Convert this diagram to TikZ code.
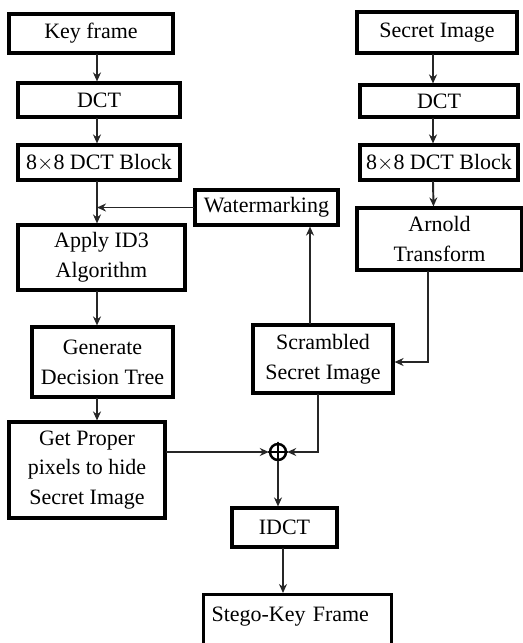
\documentclass[tikz,border=0pt]{standalone}
\usepackage{fontspec}
\setmainfont{Liberation Serif}
\usetikzlibrary{arrows.meta,positioning}

\begin{document}
\begin{tikzpicture}
        [x=0.02cm, y=-0.02cm, line cap=round,
        % Styles
        box/.style={draw, line width=1.8pt, align=center, inner sep=2pt,
                font=\fontsize{12.5}{17}\selectfont},
        flow/.style={line width=1.1pt, black!85, -{Stealth[length=1.8mm, width=1.6mm]}}]

        \useasboundingbox (0, 0) rectangle (523, 643);

        % Left column
        \node[box, minimum width=3.28cm, minimum height=0.78cm] (key frame) at (91, 33.5) {Key frame};
        \node[box, minimum width=3.24cm, minimum height=0.68cm] (dct left) at (99, 100) {DCT};
        \node[box, minimum width=3.24cm, minimum height=0.70cm] (block left) at (99, 162.5) {8$\times$8 DCT Block};
        \node[box, minimum width=3.34cm, minimum height=1.30cm] (id3) at (101.5, 257.5) {Apply ID3\\Algorithm};
        \node[box, minimum width=2.82cm, minimum height=1.40cm] (tree) at (102.5, 362) {Generate\\Decision Tree};
        \node[box, minimum width=3.12cm, minimum height=1.92cm] (pixels) at (87, 470) {Get Proper\\pixels to hide\\Secret Image};
        \coordinate (spine) at (97, 0);

        % Right column
        \node[box, minimum width=3.20cm, minimum height=0.82cm] (secret) at (437, 32.5) {Secret Image};
        \node[box, minimum width=3.16cm, minimum height=0.64cm] (dct right) at (439, 101) {DCT};
        \node[box, minimum width=3.16cm, minimum height=0.70cm] (block right) at (439, 162.5) {8$\times$8 DCT Block};
        \node[box, minimum width=3.30cm, minimum height=1.24cm] (arnold) at (439.5, 239) {Arnold\\Transform};

        % Middle
        \node[box, minimum width=2.86cm, minimum height=0.70cm] (watermark) at (266.5, 207.5) {Watermarking};
        \node[box, minimum width=2.80cm, minimum height=1.36cm] (scrambled) at (323, 359) {Scrambled\\Secret Image};
        \node[draw, circle, line width=1.4pt, minimum size=0.32cm, inner sep=0pt] (xor) at (278, 452) {};
        \draw[line width=1.4pt] (xor.north) -- (xor.south) (xor.west) -- (xor.east);
        \node[box, minimum width=2.10cm, minimum height=0.78cm] (idct) at (284.5, 527.5) {IDCT};
        \node[box, anchor=north west, minimum width=3.76cm, text width=3.44cm, align=left,
                inner xsep=0.16cm, inner ysep=0pt, text height=0.54cm, text depth=0.8cm]
                (stego) at (202, 593) {Stego-Key Frame};

        % The graphic
        \draw[flow] (key frame.south -| spine) -- (dct left.north -| spine);
        \draw[flow] (dct left.south -| spine) -- (block left.north -| spine);
        \draw[flow] (block left.south -| spine) -- (id3.north -| spine);
        \draw[flow] (watermark.west) -- (watermark.west -| spine);
        \draw[flow] (id3.south -| spine) -- (tree.north -| spine);
        \draw[flow] (tree.south -| spine) -- (pixels.north -| spine);

        \draw[flow] ([xshift=-0.08cm]secret.south) -- ([xshift=-0.12cm]dct right.north);
        \draw[flow] ([xshift=-0.12cm]dct right.south) -- ([xshift=-0.12cm]block right.north);
        \draw[flow] ([xshift=-0.12cm]block right.south) -- ([xshift=-0.12cm]arnold.north);
        \draw[flow] ([xshift=-0.23cm]arnold.south) |- ([yshift=-0.06cm]scrambled.east);

        \draw[flow] ([xshift=-0.26cm]scrambled.north) -- ([xshift=-0.26cm]scrambled.north |- watermark.south);
        \draw[flow] ([xshift=-0.10cm]scrambled.south) |- (xor.east);
        \draw[flow] (pixels.east |- xor) -- (xor.west);
        \draw[flow] (xor.south) -- (xor.south |- idct.north);
        \draw[flow] ([xshift=-0.03cm]idct.south) -- ([xshift=-0.03cm]idct.south |- stego.north);
\end{tikzpicture}
\end{document}
